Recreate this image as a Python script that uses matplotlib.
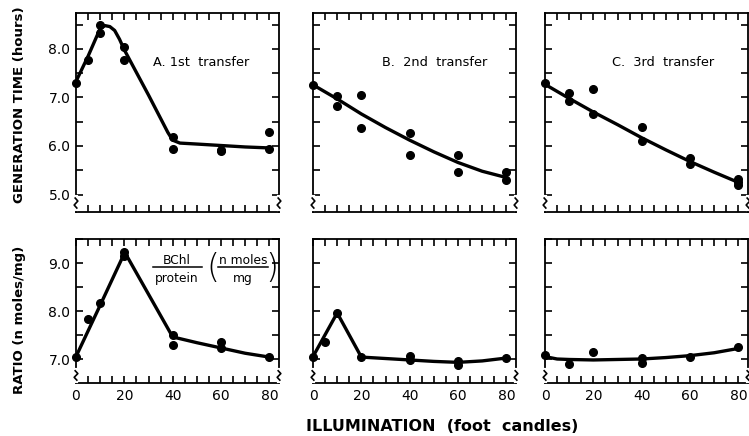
import matplotlib
matplotlib.use("Agg")
import matplotlib.pyplot as plt
import numpy as np

# illumination (foot candles)
# --- generation time (hours), measured points ---
gen_a_x = [0, 5, 10, 10, 20, 20, 40, 40, 60, 60, 80, 80]
gen_a_y = [7.29, 7.78, 8.50, 8.33, 8.04, 7.78, 6.18, 5.94, 5.92, 5.89, 6.29, 5.94]
gen_b_x = [0, 10, 10, 20, 20, 40, 40, 60, 60, 80, 80]
gen_b_y = [7.26, 7.02, 6.82, 7.05, 6.37, 6.27, 5.81, 5.81, 5.46, 5.46, 5.29]
gen_c_x = [0, 10, 10, 20, 20, 40, 40, 60, 60, 80, 80, 80]
gen_c_y = [7.29, 7.09, 6.93, 7.18, 6.65, 6.39, 6.10, 5.76, 5.62, 5.33, 5.26, 5.19]

# --- generation time, drawn curves ---
gen_a_cx = [0, 5, 10, 12, 14, 16, 18, 20, 30, 38, 40, 43, 50, 60, 70, 80]
gen_a_cy = [7.33, 7.85, 8.42, 8.48, 8.46, 8.38, 8.20, 7.98, 7.05, 6.28, 6.12, 6.06, 6.04, 6.01, 5.98, 5.96]
gen_b_cx = [0, 10, 20, 30, 40, 50, 60, 70, 80]
gen_b_cy = [7.26, 6.97, 6.66, 6.38, 6.12, 5.88, 5.66, 5.48, 5.35]
gen_c_cx = [0, 10, 20, 30, 40, 50, 60, 70, 80]
gen_c_cy = [7.27, 6.98, 6.70, 6.44, 6.17, 5.92, 5.68, 5.46, 5.25]

# --- BChl / protein ratio (n moles/mg), measured points ---
rat_a_x = [0, 5, 10, 20, 20, 40, 40, 60, 60, 80]
rat_a_y = [7.05, 7.84, 8.16, 9.23, 9.14, 7.51, 7.29, 7.36, 7.23, 7.04]
rat_b_x = [0, 5, 10, 20, 40, 40, 60, 60, 80]
rat_b_y = [7.05, 7.36, 7.96, 7.05, 7.07, 6.97, 6.95, 6.87, 7.03]
rat_c_x = [0, 10, 20, 40, 40, 60, 80]
rat_c_y = [7.09, 6.90, 7.14, 7.02, 6.92, 7.05, 7.25]

# --- ratio, drawn curves ---
rat_a_cx = [0, 10, 20, 21, 40, 50, 60, 70, 80]
rat_a_cy = [7.05, 8.12, 9.20, 9.15, 7.46, 7.34, 7.23, 7.12, 7.04]
rat_b_cx = [0, 10, 20, 30, 40, 50, 60, 70, 80]
rat_b_cy = [7.05, 7.96, 7.04, 7.01, 6.98, 6.95, 6.93, 6.96, 7.02]
rat_c_cx = [0, 5, 10, 20, 30, 40, 50, 60, 70, 80]
rat_c_cy = [7.05, 7.00, 6.99, 6.98, 6.99, 7.00, 7.03, 7.07, 7.13, 7.22]

panel_titles = ["A. 1st  transfer", "B.  2nd  transfer", "C.  3rd  transfer"]

W, H = 749, 436
plt.rcParams['font.family'] = ['DejaVu Sans']
fig = plt.figure(figsize=(W / 100, H / 100), dpi=100)


def px_axes(x0, x1, ytop, ybot):
    return fig.add_axes([x0 / W, 1 - ybot / H, (x1 - x0) / W, (ybot - ytop) / H])


def style(ax, ylim, yticks, show_ylab, show_xlab, brk):
    ax.set_xlim(0, 84)
    ax.set_ylim(*ylim)
    ax.set_xticks(np.arange(0, 81, 5))
    ax.set_xticklabels([(str(v) if v % 20 == 0 else "") for v in range(0, 81, 5)] if show_xlab else [])
    ax.set_yticks(yticks)
    if show_ylab:
        ax.set_yticklabels([(f"{v:.1f}" if abs(v - round(v)) < 1e-6 else "") for v in yticks])
    else:
        ax.set_yticklabels([])
    ax.tick_params(direction="in", length=5, width=1.2, top=True, right=True,
                   labelsize=10, pad=4)
    for s in ax.spines.values():
        s.set_linewidth(1.3)
    # small axis-break squiggles at lower corners
    b0, b1 = brk
    d = b1 - b0
    for xa in (0, 1):
        ax.plot([xa, xa], [b0 - 0.005, b1 + 0.005], transform=ax.transAxes, color="white",
                lw=3, clip_on=False, zorder=5)
        ax.plot([xa - 0.004, xa + 0.009, xa - 0.009, xa + 0.004],
                [b1, b1 - 0.3 * d, b0 + 0.3 * d, b0],
                transform=ax.transAxes, color="black", lw=1.2, clip_on=False, zorder=6)


cols = [(76, 279), (313, 516), (545, 748)]
title_x = [0.38, 0.34, 0.33]
gen_pts = [(gen_a_x, gen_a_y), (gen_b_x, gen_b_y), (gen_c_x, gen_c_y)]
gen_crv = [(gen_a_cx, gen_a_cy), (gen_b_cx, gen_b_cy), (gen_c_cx, gen_c_cy)]
rat_pts = [(rat_a_x, rat_a_y), (rat_b_x, rat_b_y), (rat_c_x, rat_c_y)]
rat_crv = [(rat_a_cx, rat_a_cy), (rat_b_cx, rat_b_cy), (rat_c_cx, rat_c_cy)]

for i, (x0, x1) in enumerate(cols):
    ax = px_axes(x0, x1, 13, 212)
    ax.plot(*gen_crv[i], color="black", lw=2.4, solid_capstyle="round")
    ax.plot(*gen_pts[i], "o", color="black", ms=5.5, clip_on=False)
    style(ax, (4.64, 8.74), np.arange(5.0, 8.6, 0.5), i == 0, False, (0.02, 0.07))
    ax.text(title_x[i], 0.75, panel_titles[i], transform=ax.transAxes,
            fontsize=9.3, ha="left", va="center")

    ax = px_axes(x0, x1, 239, 383)
    ax.plot(*rat_crv[i], color="black", lw=2.4, solid_capstyle="round")
    ax.plot(*rat_pts[i], "o", color="black", ms=5.5, clip_on=False)
    style(ax, (6.5, 9.47), np.arange(7.0, 9.6, 0.5), i == 0, True, (0.02, 0.085))
    if i == 0:
        # BChl / protein  (n moles / mg)
        ax.text(0.498, 0.85, "BChl", transform=ax.transAxes, fontsize=8.8, ha="center", va="center")
        ax.text(0.498, 0.725, "protein", transform=ax.transAxes, fontsize=8.8, ha="center", va="center")
        ax.plot([0.38, 0.62], [0.805, 0.805], transform=ax.transAxes, color="black", lw=1.1)
        ax.text(0.823, 0.85, "n moles", transform=ax.transAxes, fontsize=8.8, ha="center", va="center")
        ax.text(0.823, 0.725, "mg", transform=ax.transAxes, fontsize=8.8, ha="center", va="center")
        ax.plot([0.70, 0.945], [0.805, 0.805], transform=ax.transAxes, color="black", lw=1.1)
        ax.text(0.675, 0.795, "(", transform=ax.transAxes, fontsize=24, ha="center", va="center",
                fontweight="light")
        ax.text(0.966, 0.795, ")", transform=ax.transAxes, fontsize=24, ha="center", va="center",
                fontweight="light")

fig.text(20 / W, 1 - 105 / H, "GENERATION TIME (hours)", rotation=90, ha="center",
         va="center", fontsize=9.5, fontweight="bold")
fig.text(20 / W, 1 - 320 / H, "RATIO (n moles/mg)", rotation=90, ha="center",
         va="center", fontsize=9.5, fontweight="bold")
fig.text(442 / W, 1 - 426 / H, "ILLUMINATION  (foot  candles)", ha="center", va="center",
         fontsize=11.5, fontweight="bold")

fig.savefig("out.png", dpi=100)
